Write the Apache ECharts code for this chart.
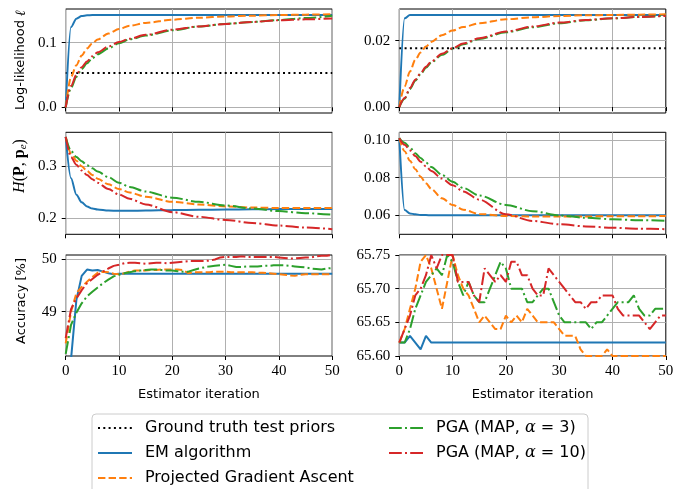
<!DOCTYPE html>
<html>
<head>
<meta charset="utf-8">
<script src="https://cdn.jsdelivr.net/npm/echarts@6/dist/echarts.min.js"></script>
<style>
html, body { margin: 0; padding: 0; background: #fff; }
#main { width: 684px; height: 489px; }
</style>
</head>
<body>
<div id="main"></div>
<script>
// iterations at which the smooth curves were read (top and middle rows)
var iterSparse = [0, 1, 2, 3, 4, 5, 6, 8, 10, 12, 15, 20, 25, 30, 35, 40, 45, 50];
// accuracy rows are read at every iteration
var iterAll = [];
for (var k = 0; k <= 50; k++) iterAll.push(k);

var names = ['Ground truth test priors', 'EM algorithm', 'Projected Gradient Ascent',
             'PGA (MAP, α = 3)', 'PGA (MAP, α = 10)'];

// log-likelihood, left
var llA_truth = 0.053;
var llA_em    = [0, 0.124, 0.137, 0.141, 0.1422, 0.1426, 0.1428, 0.1428, 0.1428, 0.1428, 0.1428, 0.1428, 0.1428, 0.1428, 0.1428, 0.1428, 0.1428, 0.1428];
var llA_pga   = [0, 0.047, 0.065, 0.080, 0.091, 0.099, 0.105, 0.114, 0.121, 0.126, 0.1305, 0.1355, 0.1385, 0.1405, 0.1417, 0.1426, 0.1433, 0.1438];
var llA_map3  = [0, 0.030, 0.047, 0.059, 0.068, 0.076, 0.082, 0.091, 0.099, 0.105, 0.111, 0.119, 0.125, 0.129, 0.132, 0.135, 0.138, 0.1415];
var llA_map10 = [0, 0.033, 0.050, 0.062, 0.071, 0.079, 0.085, 0.094, 0.101, 0.106, 0.112, 0.120, 0.125, 0.129, 0.132, 0.1345, 0.136, 0.1375];

// log-likelihood, right
var llB_truth = 0.0177;
var llB_em    = [0, 0.0267, 0.0277, 0.0277, 0.0277, 0.0277, 0.0277, 0.0277, 0.0277, 0.0277, 0.0277, 0.0277, 0.0277, 0.0277, 0.0277, 0.0277, 0.0277, 0.0277];
var llB_pga   = [0, 0.0062, 0.0107, 0.0142, 0.0164, 0.0182, 0.0196, 0.0216, 0.0230, 0.0241, 0.0252, 0.0264, 0.0270, 0.0274, 0.0276, 0.0277, 0.0278, 0.0279];
var llB_map3  = [0, 0.0025, 0.0054, 0.0079, 0.0099, 0.0118, 0.0134, 0.0157, 0.0175, 0.0189, 0.0205, 0.0225, 0.0240, 0.0252, 0.0261, 0.0267, 0.0271, 0.0275];
var llB_map10 = [0, 0.0027, 0.0057, 0.0082, 0.0102, 0.0121, 0.0137, 0.0160, 0.0177, 0.0191, 0.0207, 0.0227, 0.0242, 0.0254, 0.0262, 0.0267, 0.0271, 0.0274];

// cross entropy H(P, p_e), left
var hA_em    = [0.357, 0.277, 0.245, 0.230, 0.222, 0.218, 0.216, 0.214, 0.2135, 0.2135, 0.214, 0.215, 0.2155, 0.216, 0.2165, 0.217, 0.217, 0.217];
var hA_pga   = [0.357, 0.325, 0.311, 0.300, 0.291, 0.283, 0.276, 0.265, 0.256, 0.249, 0.241, 0.231, 0.226, 0.222, 0.220, 0.219, 0.219, 0.219];
var hA_map3  = [0.357, 0.330, 0.318, 0.310, 0.302, 0.296, 0.290, 0.279, 0.268, 0.260, 0.251, 0.239, 0.231, 0.224, 0.218, 0.213, 0.209, 0.206];
var hA_map10 = [0.357, 0.318, 0.303, 0.292, 0.283, 0.275, 0.268, 0.256, 0.245, 0.237, 0.226, 0.211, 0.202, 0.196, 0.190, 0.185, 0.181, 0.178];

// cross entropy, right
var hB_em    = [0.101, 0.0628, 0.061, 0.0605, 0.0602, 0.0601, 0.060, 0.060, 0.060, 0.060, 0.060, 0.060, 0.060, 0.060, 0.060, 0.060, 0.060, 0.060];
var hB_pga   = [0.101, 0.094, 0.089, 0.0845, 0.0805, 0.077, 0.074, 0.069, 0.0655, 0.063, 0.0607, 0.0596, 0.0594, 0.0594, 0.0594, 0.0595, 0.0595, 0.0596];
var hB_map3  = [0.101, 0.0985, 0.096, 0.093, 0.0905, 0.088, 0.0857, 0.0815, 0.0778, 0.0745, 0.0705, 0.0655, 0.0622, 0.0599, 0.0587, 0.0579, 0.0574, 0.0571];
var hB_map10 = [0.101, 0.0975, 0.0945, 0.0915, 0.0885, 0.086, 0.0835, 0.0795, 0.076, 0.0727, 0.0683, 0.0605, 0.0570, 0.0552, 0.0541, 0.0534, 0.0529, 0.0526];

// accuracy [%], left
var accA_em = [47.6, 48.1, 49.22, 49.68, 49.80, 49.78, 49.79, 49.76, 49.73, 49.71, 49.72,
  49.72, 49.72, 49.72, 49.72, 49.72, 49.72, 49.72, 49.72, 49.72, 49.72,
  49.72, 49.72, 49.72, 49.72, 49.72, 49.72, 49.72, 49.72, 49.72, 49.72,
  49.72, 49.72, 49.72, 49.72, 49.72, 49.72, 49.72, 49.72, 49.72, 49.72,
  49.72, 49.72, 49.72, 49.72, 49.72, 49.72, 49.72, 49.72, 49.72, 49.72];
var accA_pga = [48.40, 49.00, 49.35, 49.47, 49.57, 49.66, 49.74, 49.76, 49.75, 49.72, 49.71,
  49.73, 49.76, 49.78, 49.78, 49.78, 49.79, 49.79, 49.80, 49.80, 49.80,
  49.80, 49.79, 49.73, 49.75, 49.75, 49.75, 49.75, 49.76, 49.76, 49.76,
  49.75, 49.75, 49.75, 49.75, 49.75, 49.74, 49.74, 49.73, 49.72, 49.71,
  49.70, 49.69, 49.68, 49.70, 49.71, 49.71, 49.71, 49.71, 49.71, 49.71];
var accA_map3 = [48.20, 48.75, 48.98, 49.16, 49.29, 49.38, 49.46, 49.54, 49.61, 49.67, 49.70,
  49.73, 49.75, 49.77, 49.78, 49.79, 49.80, 49.80, 49.79, 49.78, 49.78,
  49.77, 49.76, 49.76, 49.79, 49.82, 49.84, 49.86, 49.87, 49.88, 49.89,
  49.87, 49.85, 49.85, 49.86, 49.86, 49.86, 49.87, 49.87, 49.88, 49.88,
  49.88, 49.87, 49.86, 49.85, 49.84, 49.82, 49.81, 49.80, 49.82, 49.83];
var accA_map10 = [48.50, 49.05, 49.25, 49.41, 49.54, 49.62, 49.70, 49.76, 49.82, 49.87, 49.89,
  49.92, 49.93, 49.93, 49.92, 49.91, 49.92, 49.93, 49.93, 49.92, 49.93,
  49.94, 49.95, 49.96, 49.96, 49.96, 49.96, 49.97, 49.99, 50.03, 50.04,
  50.04, 50.04, 50.05, 50.04, 50.04, 50.04, 50.04, 50.04, 50.04, 50.03,
  50.02, 50.01, 50.01, 50.02, 50.03, 50.03, 50.05, 50.06, 50.06, 50.08];

// accuracy [%], right
var accB_em = [65.62, 65.62, 65.63, 65.62, 65.61, 65.63, 65.62, 65.62, 65.62, 65.62, 65.62,
  65.62, 65.62, 65.62, 65.62, 65.62, 65.62, 65.62, 65.62, 65.62, 65.62,
  65.62, 65.62, 65.62, 65.62, 65.62, 65.62, 65.62, 65.62, 65.62, 65.62,
  65.62, 65.62, 65.62, 65.62, 65.62, 65.62, 65.62, 65.62, 65.62, 65.62,
  65.62, 65.62, 65.62, 65.62, 65.62, 65.62, 65.62, 65.62, 65.62, 65.62];
var accB_pga = [65.62, 65.64, 65.67, 65.70, 65.74, 65.75, 65.73, 65.70, 65.67, 65.71, 65.75,
  65.72, 65.70, 65.69, 65.67, 65.65, 65.66, 65.65, 65.64, 65.64, 65.66,
  65.65, 65.66, 65.65, 65.67, 65.66, 65.65, 65.65, 65.65, 65.65, 65.64,
  65.63, 65.63, 65.63, 65.61, 65.60, 65.60, 65.60, 65.60, 65.61, 65.60,
  65.60, 65.60, 65.60, 65.60, 65.60, 65.60, 65.60, 65.60, 65.60, 65.60];
var accB_map3 = [65.62, 65.62, 65.64, 65.67, 65.69, 65.71, 65.72, 65.73, 65.72, 65.75, 65.74,
  65.71, 65.69, 65.71, 65.69, 65.68, 65.68, 65.70, 65.72, 65.74, 65.73,
  65.70, 65.70, 65.70, 65.68, 65.68, 65.69, 65.70, 65.70, 65.68, 65.66,
  65.65, 65.65, 65.65, 65.65, 65.65, 65.64, 65.65, 65.65, 65.66, 65.67,
  65.68, 65.68, 65.68, 65.69, 65.67, 65.66, 65.66, 65.67, 65.67, 65.67];
var accB_map10 = [65.62, 65.64, 65.66, 65.69, 65.70, 65.72, 65.75, 65.73, 65.75, 65.75, 65.75,
  65.71, 65.71, 65.71, 65.69, 65.68, 65.73, 65.72, 65.71, 65.72, 65.71,
  65.74, 65.74, 65.72, 65.72, 65.70, 65.69, 65.69, 65.73, 65.72, 65.71,
  65.70, 65.69, 65.68, 65.68, 65.67, 65.68, 65.68, 65.69, 65.69, 65.69,
  65.67, 65.66, 65.66, 65.66, 65.66, 65.65, 65.64, 65.65, 65.66, 65.66];

var colors = ['#000000', '#1f77b4', '#ff7f0e', '#2ca02c', '#d62728'];
var dashes = [[2, 3.3], 'solid', [7.4, 3.2], [12.8, 3.2, 2, 3.2], [12.8, 3.2, 2, 3.2]];

var colLeft = [65.7, 399.3];
var rowTop = [9, 132.3, 255];
var rowHeight = [104, 102, 101];
var panelWidth = 266.5;

var panels = [
  { col: 0, row: 0, min: -0.0088, max: 0.152, ticks: [0, 0.1], dec: 1, x: iterSparse, truth: llA_truth, ys: [llA_em, llA_pga, llA_map3, llA_map10] },
  { col: 1, row: 0, min: -0.0018, max: 0.0295, ticks: [0, 0.02], dec: 2, x: iterSparse, truth: llB_truth, ys: [llB_em, llB_pga, llB_map3, llB_map10] },
  { col: 0, row: 1, min: 0.168, max: 0.366, ticks: [0.2, 0.3], dec: 1, x: iterSparse, ys: [hA_em, hA_pga, hA_map3, hA_map10] },
  { col: 1, row: 1, min: 0.0499, max: 0.1041, ticks: [0.06, 0.08, 0.10], dec: 2, x: iterSparse, ys: [hB_em, hB_pga, hB_map3, hB_map10] },
  { col: 0, row: 2, min: 48.16, max: 50.076, ticks: [49, 50], dec: 0, x: iterAll, ys: [accA_em, accA_pga, accA_map3, accA_map10] },
  { col: 1, row: 2, min: 65.60, max: 65.75, ticks: [65.60, 65.65, 65.70, 65.75], dec: 2, x: iterAll, ys: [accB_em, accB_pga, accB_map3, accB_map10] }
];

var tickFont = { fontFamily: 'Liberation Serif', fontSize: 15, color: '#000' };
var grids = [], xAxes = [], yAxes = [], series = [];

panels.forEach(function (p, i) {
  grids.push({
    left: colLeft[p.col], top: rowTop[p.row], width: panelWidth, height: rowHeight[p.row],
    show: true, borderColor: '#000', borderWidth: 1, backgroundColor: 'transparent'
  });
  xAxes.push({
    gridIndex: i, type: 'value', min: 0, max: 50, interval: 10,
    axisLine: { show: false },
    axisTick: { show: true, length: 4, lineStyle: { color: '#000' } },
    axisLabel: Object.assign({ show: p.row === 2, margin: 8 }, tickFont),
    splitLine: { show: true, lineStyle: { color: '#b0b0b0', width: 1 } },
    name: p.row === 2 ? 'Estimator iteration' : '',
    nameLocation: 'middle', nameGap: 32,
    nameTextStyle: { fontFamily: 'DejaVu Sans', fontSize: 13, color: '#000' }
  });
  yAxes.push({
    gridIndex: i, type: 'value', min: p.min, max: p.max,
    axisLine: { show: false },
    axisTick: { show: true, length: 4, customValues: p.ticks, lineStyle: { color: '#000' } },
    axisLabel: Object.assign({
      margin: 9, customValues: p.ticks,
      formatter: (function (d) { return function (v) { return Number(v).toFixed(d); }; })(p.dec)
    }, tickFont),
    splitLine: { show: true, lineStyle: { color: '#b0b0b0', width: 1 } }
  });

  var smooth = p.x === iterSparse;
  if (p.truth !== undefined) {
    series.push({
      type: 'line', name: names[0], xAxisIndex: i, yAxisIndex: i, symbol: 'none',
      data: [[0, p.truth], [50, p.truth]],
      lineStyle: { color: colors[0], width: 2, type: dashes[0], cap: 'butt' },
      itemStyle: { color: colors[0] }
    });
  }
  p.ys.forEach(function (ys, s) {
    series.push({
      type: 'line', name: names[s + 1], xAxisIndex: i, yAxisIndex: i, symbol: 'none',
      smooth: smooth ? 0.3 : false, smoothMonotone: 'x', clip: true,
      data: ys.map(function (v, j) { return [p.x[j], v]; }),
      lineStyle: { color: colors[s + 1], width: 2, type: dashes[s + 1], cap: 'butt' },
      itemStyle: { color: colors[s + 1] }
    });
  });
});

var legendText = {
  fontFamily: 'DejaVu Sans', fontSize: 16, color: '#000', padding: [0, 0, 0, 8],
  rich: { m: { fontFamily: 'DejaVu Serif', fontStyle: 'italic', fontSize: 16 } }
};
function legendFormatter(name) { return name.replace('α', '{m|α}'); }

function makeLegend(left, data) {
  return {
    orient: 'vertical', left: left, top: 420, height: 120, padding: 0,
    itemWidth: 34, itemHeight: 12, itemGap: 9, selectedMode: false,
    itemStyle: { opacity: 0 },
    data: data, textStyle: legendText, formatter: legendFormatter
  };
}

var option = {
  animation: false,
  backgroundColor: '#fff',
  grid: grids,
  xAxis: xAxes,
  yAxis: yAxes,
  series: series,
  legend: [makeLegend(97, names.slice(0, 3)), makeLegend(388, names.slice(3))],
  graphic: [
    { type: 'rect', z: 0, shape: { x: 92, y: 414, width: 496, height: 90, r: 4 },
      style: { fill: '#fff', stroke: '#cccccc', lineWidth: 1 } },
    { type: 'text', x: 21, y: 60, rotation: Math.PI / 2,
      style: { text: 'Log-likelihood {m|ℓ}', fontFamily: 'DejaVu Sans', fontSize: 13, fill: '#000',
               align: 'center', verticalAlign: 'middle',
               rich: { m: { fontFamily: 'DejaVu Serif', fontStyle: 'italic', fontSize: 14 } } } },
    { type: 'text', x: 20, y: 166, rotation: Math.PI / 2,
      style: { text: '{i|H}({b|P}, {b|p}{s|e})', fontFamily: 'Liberation Serif', fontSize: 16, fill: '#000',
               align: 'center', verticalAlign: 'middle',
               rich: {
                 i: { fontFamily: 'Liberation Serif', fontStyle: 'italic', fontSize: 16 },
                 b: { fontFamily: 'Liberation Serif', fontWeight: 'bold', fontSize: 16 },
                 s: { fontFamily: 'Liberation Serif', fontStyle: 'italic', fontSize: 11, padding: [6, 0, 0, 0] }
               } } },
    { type: 'text', x: 22, y: 301, rotation: Math.PI / 2,
      style: { text: 'Accuracy [%]', fontFamily: 'DejaVu Sans', fontSize: 13, fill: '#000',
               align: 'center', verticalAlign: 'middle' } }
  ]
};

var chart = echarts.init(document.getElementById('main'), null, { renderer: 'canvas' });
chart.setOption(option);
</script>
</body>
</html>
